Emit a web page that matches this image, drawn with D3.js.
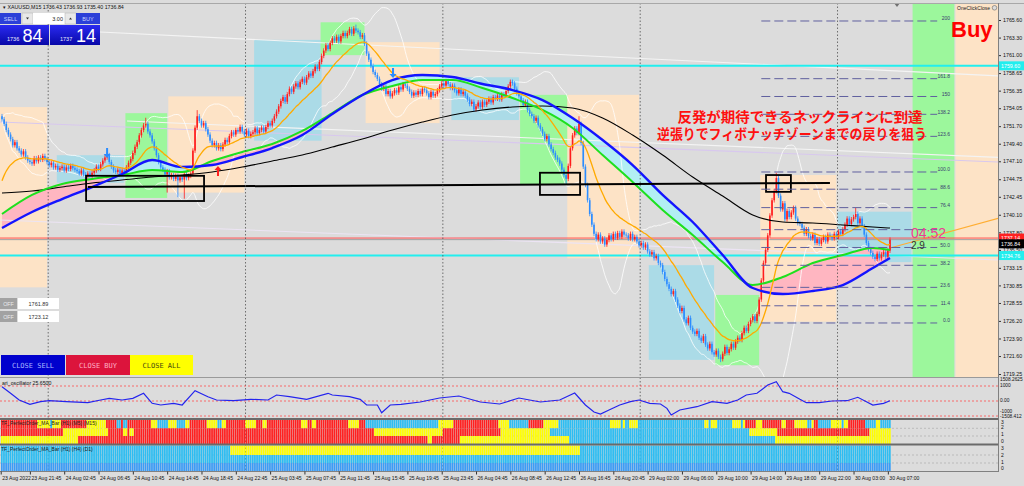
<!DOCTYPE html>
<html><head><meta charset="utf-8">
<script src="https://cdn.jsdelivr.net/npm/d3@7/dist/d3.min.js"></script>
<style>
html,body{margin:0;padding:0;background:#dcdcdc;overflow:hidden}
svg{display:block}
text{font-family:"Liberation Sans",Arial,sans-serif}
</style></head><body>
<svg id="chart" width="1024" height="486"></svg>
<script>
// ================= DATA =================
const firstOpen = 1753.0;
const closes = [
1752.6,1752.0,1751.2,1750.6,1750.0,1749.2,1749.6,1748.8,1748.5,1748.0,1748.4,1747.6,1747.2,1747.0,
1746.8,1747.5,1747.1,1747.6,1747.3,1747.8,1747.4,1747.0,1746.6,1746.9,1746.3,1746.5,1746.0,1746.2,
1746.4,1745.9,1746.3,1746.1,1746.5,1746.2,1746.0,1745.8,1745.5,1745.9,1745.4,1745.1,1745.5,1745.2,
1745.6,1745.9,1746.4,1746.1,1746.7,1747.2,1747.6,1747.9,1747.0,1746.4,1745.9,1745.7,
1746.0,1745.5,1745.9,1745.7,1746.3,1746.9,1747.4,1748.2,1749.0,1749.6,1750.5,1751.2,1751.8,1752.0,
1751.0,1750.5,1749.7,1748.8,1747.9,1747.0,1746.3,1746.0,1745.4,1745.8,1745.0,
1745.3,1744.8,1745.2,1744.6,1745.0,1744.7,1745.4,1744.9,1745.2,1745.5,1748.5,1751.5,1753.0,
1752.4,1751.8,1752.1,1751.3,1750.6,1749.8,1749.2,1749.5,1748.8,1749.2,1748.7,
1749.3,1749.9,1749.6,1750.4,1750.9,1750.6,1751.2,1751.0,1751.6,1751.0,1750.6,1751.1,1750.4,1750.7,
1750.9,1751.4,1750.8,1751.2,1751.5,1751.0,1751.6,1752.1,1751.8,1752.4,1753.0,1753.6,1754.3,1755.0,
1755.5,1754.9,1755.9,1756.6,1756.2,1756.9,1757.3,1756.8,1757.5,1757.9,1757.4,1758.1,1758.6,1758.3,
1758.9,1759.5,1759.2,1760.1,1760.9,1761.6,1762.3,1761.8,1762.6,1763.2,1762.9,
1763.4,1762.8,1763.5,1763.9,1763.5,1763.9,1764.4,1763.8,1764.5,1764.2,1764.0,1763.4,1763.6,
1762.5,1761.2,1760.4,1759.6,1758.8,1758.4,1757.9,1757.2,1756.6,1756.9,1755.9,
1756.3,1755.6,1756.0,1756.4,1756.1,1756.8,1756.5,1757.2,1757.0,1756.6,1756.2,1755.7,1756.1,1755.8,
1756.3,1755.9,1756.6,1756.4,1756.0,1755.5,1756.2,1755.7,1755.9,1756.4,1756.9,1757.3,1757.0,1757.6,
1757.2,1756.7,1757.0,1756.4,1756.0,1756.5,1755.9,1756.2,1755.7,1755.2,1754.6,1754.9,1753.9,
1754.3,1754.8,1754.2,1754.9,1754.5,1754.9,1755.3,1754.8,1755.5,1755.3,1755.7,1755.2,1755.9,1755.8,
1756.3,1756.9,1757.5,1757.3,1756.6,1756.0,1755.6,1755.1,1754.5,1754.9,1753.8,1753.3,
1753.0,1752.4,1752.8,1751.8,1751.3,1750.7,1750.0,1750.4,1749.3,1748.7,1748.2,1747.6,1747.3,
1746.8,1746.0,1745.3,1744.8,1746.5,1748.8,1750.5,1751.4,1750.8,1752.0,1749.5,1746.4,
1744.0,1742.0,1740.2,1738.8,1737.6,1736.9,1737.5,1736.6,1737.0,1736.2,1736.8,1737.4,1736.9,1737.6,1737.1,
1737.7,1737.2,1737.9,1737.5,1737.4,1737.0,1737.6,1736.9,1737.2,1736.6,1736.1,
1736.4,1735.8,1736.2,1735.3,1734.9,1735.2,1734.4,1734.7,1733.8,1733.5,1732.6,1731.7,1731.0,
1730.4,1729.7,1730.1,1729.0,1728.2,1727.5,1727.9,1726.4,1725.9,1726.6,1725.3,1724.8,1724.5,
1724.9,1724.0,1723.6,1724.2,1723.1,1722.6,1723.2,1722.1,1721.8,1722.3,1721.5,1721.2,
1721.9,1722.8,1722.0,1722.5,1723.2,1722.7,1723.5,1724.0,1723.7,1724.6,1725.3,1724.9,1725.8,1726.3,
1726.8,1726.2,1727.1,1729.0,1731.5,1733.8,1735.5,1737.4,1740.0,1742.0,1743.2,1744.9,
1742.6,1740.8,1741.6,1739.5,1740.6,1739.8,1740.4,1741.0,1739.6,1739.0,1738.9,
1738.4,1737.6,1738.2,1737.3,1737.0,1737.5,1736.4,1736.9,1736.3,1736.8,1737.2,1736.6,1737.5,1737.3,
1737.0,1737.6,1737.2,1737.9,1737.6,1738.2,1738.8,1739.6,1738.9,1739.5,1739.8,1740.2,
1739.0,1739.6,1738.6,1737.5,1736.4,1735.6,1735.1,1734.6,1734.3,1735.0,1734.4,1734.9,
1735.2,1734.6,1735.4,1736.84
];
// notable wicks [barIndex, high, low]
const spikes = [[49,1748.3,null],[67,1752.8,null],[77,null,1743.0],[82,null,1742.4],[85,null,1742.2],
  [91,1753.8,null],[165,1765.0,null],[263,null,1744.0],[269,1753.0,null],[335,null,1720.8],[361,1745.6,null],[398,1741.0,null]];
const orangeSeed = 1743.7;
const maIdx   = [0,14,28,42,56,70,84,98,112,126,140,154,168,182,196,210,224,238,252,266,280,294,308,322,336,350,364,378,392,406,414];
const maGreen = [1740.20,1742.69,1744.13,1744.78,1745.30,1745.96,1745.70,1747.14,1748.32,1749.36,1751.07,1753.42,1755.78,1756.96,1757.74,1757.74,1756.70,1755.39,1753.82,1751.46,1747.92,1744.39,1740.72,1737.45,1733.91,1730.90,1731.95,1733.78,1734.83,1735.75,1735.48];
const maBlue  = [1738.36,1740.46,1742.16,1743.73,1745.44,1747.27,1746.35,1746.61,1747.66,1748.84,1750.54,1753.29,1755.78,1757.74,1758.40,1758.14,1757.22,1756.43,1755.12,1752.77,1749.89,1746.61,1742.69,1739.15,1734.83,1730.51,1729.72,1730.12,1730.90,1733.13,1734.44];
const maBlack = [1742.95,1743.21,1743.73,1744.26,1744.65,1745.04,1745.30,1745.70,1746.35,1747.14,1747.92,1748.97,1750.02,1751.20,1752.24,1753.16,1753.82,1754.21,1754.34,1754.08,1752.77,1750.54,1747.92,1745.04,1742.55,1740.07,1739.15,1739.02,1738.76,1738.50,1738.36];
const priceTicks = [1765.60,1763.30,1761.00,1758.65,1756.35,1754.05,1751.70,1749.40,1747.10,1744.75,1742.45,1740.10,1737.80,1735.50,1733.15,1730.85,1728.55,1726.20,1723.90,1721.60,1719.25];
const timeIdx = [-0.6,13,29,45,61,77,93,109,125,141,157,173,189,205,221,237,253,269,285,301,317,333,349,365,381,397,413];
const timeLabels = ["23 Aug 2022","23 Aug 21:45","24 Aug 02:45","24 Aug 06:45","24 Aug 10:45","24 Aug 14:45","24 Aug 18:45","24 Aug 22:45","25 Aug 03:45","25 Aug 07:45","25 Aug 11:45","25 Aug 15:45","25 Aug 19:45","25 Aug 23:45","26 Aug 04:45","26 Aug 08:45","26 Aug 12:45","26 Aug 16:45","26 Aug 20:45","29 Aug 02:00","29 Aug 06:00","29 Aug 10:00","29 Aug 14:00","29 Aug 18:00","29 Aug 22:00","30 Aug 03:00","30 Aug 07:00"];
const daySep = [22,114,206,298,390];
// session boxes [fromIdx, toIdx, topPrice, bottomPrice, kind]
const boxes = [
 [-1,21,1754.2,1730.6,'o'],[26,57,1747.9,1744.3,'b'],[58,77,1753.4,1742.3,'g'],[78,113,1755.6,1743.0,'o'],
 [118,149,1763.0,1749.8,'b'],[149,169,1765.3,1761.0,'g'],[170,204,1762.7,1752.1,'o'],[210,241,1758.1,1752.5,'b'],
 [242,264,1755.8,1744.0,'g'],[264,297,1755.8,1734.4,'o'],[302,332,1733.5,1721.1,'b'],[333,353,1729.6,1720.4,'g'],
 [354,389,1745.3,1726.1,'o'],[390,424,1740.5,1733.9,'b'],[425,444,null,null,'g'],[445,465,null,null,'o']
];
const neckIdx = [40,386], neckPrice = [1743.73,1744.26];
const neckBoxes = [[39.2,94.2,1745.2,1741.9],[250.8,269.5,1745.6,1742.7],[356.2,367.8,1745.3,1743.1]];
const fibLevels = [0,11.4,23.6,38.2,50,61.8,76.4,88.6,100,123.6,138.2,150,161.8,200];
const fibLabels = ["0.0","11.4","23.6","38.2","50.0","","76.4","88.6","100.0","123.6","138.2","150","161.8","200"];
const fib0 = 1725.93, fib100 = 1745.70, fibFrom = 354, fibTo = 436, fibLabelIdx = 442;
// trend lines [i0,p0,i1,p1,color]
const trendLines = [
 [45.7,1764.03,465,1758.27,'#f4f4f4'],
 [-1,1752.24,465,1747.00,'#d8c8ee'],
 [58.3,1752.37,465,1747.60,'#f4f4f4'],
 [-1,1739.41,465,1734.17,'#ece4f4'],
 [414,1735.75,465,1739.67,'#ffae33']
];
const hLines = [[1759.60,'#22eeee',2],[1734.76,'#22eeee',2],[1737.05,'#ff5050',1],[1736.84,'#a0a0a0',1]];
const arrows = [[49,1747.53,'down','#2a8cff'],[100.7,1746.48,'up','#ff2020'],[182.3,1758.0,'down','#2a8cff']];
const oscData = [[0,953],[4,513],[8,67],[13,-220],[18,-47],[22,20],[30,-47],[40,-113],[46,67],[50,180],[56,67],[61,180],[66,513],[70,-153],[74,-267],[80,-153],[84,-267],[90,687],[96,287],[100,67],[108,20],[116,113],[124,67],[128,400],[134,287],[142,113],[152,513],[154,400],[162,287],[167,113],[170,-267],[175,-267],[177,-780],[181,-267],[186,-220],[195,-67],[204,200],[213,333],[223,-67],[232,-200],[241,200],[251,-67],[260,67],[267,533],[272,-267],[276,-733],[279,-867],[283,-600],[288,-267],[293,-47],[297,67],[302,-153],[307,-200],[310,-487],[312,-933],[316,-600],[324,-380],[331,-47],[338,-153],[343,67],[347,400],[352,513],[357,1067],[361,1287],[364,620],[367,513],[372,113],[375,-113],[381,-113],[387,0],[394,20],[399,247],[403,-47],[406,-267],[411,-153],[414,20]];
const po1Rows = [
 "R17Y6B1Y4R12Y9R5B2R1B2R11Y3B5Y4B4Y2R8Y5B2Y2R9Y5R3Y2R16Y3R2Y2R15Y5R3B34Y7R21Y5B9R7Y7B24Y5B1Y1B2Y4B31Y2B1Y3B7Y4B1Y1R5Y3R9Y2R4Y6B2Y1R2B6Y5B1Y2R8B5Y2B5",
 "R29Y21R7Y2R1Y2R112Y32R27Y23B93Y13R43Y10",
 "Y36R163Y2R13Y51B96Y54"
];
const po2Rows = ["B107Y163B145","B415","D415"];

// ================= DRAW =================
const svg = d3.select('#chart');
const defs = svg.append('defs');
const PR = 998, MT = 3, MB = 377;
const x = d3.scaleLinear().domain([0,414]).range([2,890]);
const y = d3.scaleLinear().domain([1719.25,1765.60]).range([374,20]);
const yOsc = d3.scaleLinear().domain([-1000,1000]).range([416,386]);
const curve = d3.curveMonotoneX;

svg.append('rect').attr('width',1024).attr('height',486).attr('fill','#dcdcdc');
defs.append('clipPath').attr('id','cMain').append('rect').attr('x',0).attr('y',MT).attr('width',PR).attr('height',MB-MT);
const gM = svg.append('g').attr('clip-path','url(#cMain)');

const boxColors = {o:'#fde3c6', b:'#abdbe7', g:'#9cf79c'};
gM.selectAll('rect.box').data(boxes).join('rect').attr('class','box')
  .attr('x',d=>x(d[0])-1).attr('width',d=>x(d[1])-x(d[0])+1)
  .attr('y',d=>d[2]==null?MT:y(d[2])).attr('height',d=>d[2]==null?MB-MT:y(d[3])-y(d[2]))
  .attr('fill',d=>boxColors[d[4]]);

// MA band fill
const pts = maIdx.map((d,i)=>({i:d,g:maGreen[i],b:maBlue[i],k:maBlack[i]}));
const band = d3.area().x(d=>x(d.i)).y0(d=>y(d.b)).y1(d=>y(d.g)).curve(curve);
defs.append('clipPath').attr('id','cAbove').append('path').attr('d',d3.area().x(d=>x(d.i)).y0(MT).y1(d=>y(d.b)).curve(curve)(pts));
defs.append('clipPath').attr('id','cBelow').append('path').attr('d',d3.area().x(d=>x(d.i)).y0(MB).y1(d=>y(d.b)).curve(curve)(pts));
gM.append('path').attr('d',band(pts)).attr('fill','#ffb6c1').attr('clip-path','url(#cAbove)');
gM.append('path').attr('d',band(pts)).attr('fill','#b2eef3').attr('clip-path','url(#cBelow)');

// trend & horizontal lines
gM.selectAll('line.tl').data(trendLines).join('line')
  .attr('x1',d=>x(d[0])).attr('y1',d=>y(d[1])).attr('x2',d=>x(d[2])).attr('y2',d=>y(d[3]))
  .attr('stroke',d=>d[4]).attr('stroke-width',1.1);
gM.selectAll('line.hl').data(hLines).join('line')
  .attr('x1',0).attr('x2',PR).attr('y1',d=>y(d[0])).attr('y2',d=>y(d[0]))
  .attr('stroke',d=>d[1]).attr('stroke-width',d=>d[2]);

// Bollinger (20,2) from closes
const bb = closes.map((c,i)=>{const w=closes.slice(Math.max(0,i-19),i+1);const m=d3.mean(w),s=d3.deviation(w)||0;return [i,m+2*s,m-2*s];});
const lineP = d3.line().x(d=>x(d[0])).y(d=>y(d[1])).curve(curve);
gM.append('path').attr('d',lineP(bb.map(d=>[d[0],d[1]]))).attr('fill','none').attr('stroke','#ffffff').attr('stroke-width',0.8);
gM.append('path').attr('d',lineP(bb.map(d=>[d[0],d[2]]))).attr('fill','none').attr('stroke','#ffffff').attr('stroke-width',0.8);

// candles
const WICK = 0.3;
const bars = closes.map((c,i)=>{const o=i?closes[i-1]:firstOpen;return {i,o,c,hi:Math.max(o,c)+WICK,lo:Math.min(o,c)-WICK};});
spikes.forEach(([i,h,l])=>{if(h!=null)bars[i].hi=h;if(l!=null)bars[i].lo=l;});
const col = d=>d.c>=d.o?'#ff1c1c':'#2b8cff';
const gC = gM.append('g');
gC.selectAll('line').data(bars).join('line')
  .attr('x1',d=>x(d.i)).attr('x2',d=>x(d.i)).attr('y1',d=>y(d.hi)).attr('y2',d=>y(d.lo))
  .attr('stroke',col).attr('stroke-width',0.8);
gC.selectAll('rect').data(bars).join('rect')
  .attr('x',d=>x(d.i)-0.8).attr('width',1.6)
  .attr('y',d=>y(Math.max(d.o,d.c))).attr('height',d=>Math.max(0.8,Math.abs(y(d.o)-y(d.c))))
  .attr('fill',col);

// MA lines
const ema=[];{const k=2/21;let e=orangeSeed;closes.forEach((c,i)=>{e=e+k*(c-e);ema.push([i,e]);});}
gM.append('path').attr('d',lineP(pts.map(d=>[d.i,d.k]))).attr('fill','none').attr('stroke','#000').attr('stroke-width',1.1);
gM.append('path').attr('d',lineP(pts.map(d=>[d.i,d.g]))).attr('fill','none').attr('stroke','#1ee01e').attr('stroke-width',2);
gM.append('path').attr('d',lineP(pts.map(d=>[d.i,d.b]))).attr('fill','none').attr('stroke','#1414ff').attr('stroke-width',2.4);
gM.append('path').attr('d',lineP(ema)).attr('fill','none').attr('stroke','#ffaa00').attr('stroke-width',1.3);

// neckline & boxes
gM.append('line').attr('x1',x(neckIdx[0])).attr('x2',x(neckIdx[1])).attr('y1',y(neckPrice[0])).attr('y2',y(neckPrice[1]))
  .attr('stroke','#000').attr('stroke-width',2);
gM.selectAll('rect.nb').data(neckBoxes).join('rect').attr('class','nb')
  .attr('x',d=>x(d[0])).attr('width',d=>x(d[1])-x(d[0])).attr('y',d=>y(d[2])).attr('height',d=>y(d[3])-y(d[2]))
  .attr('fill','none').attr('stroke','#000').attr('stroke-width',1.8);

// day separators
svg.selectAll('line.ds').data(daySep).join('line').attr('x1',d=>x(d)-1).attr('x2',d=>x(d)-1).attr('y1',MT).attr('y2',471)
  .attr('stroke','#505050').attr('stroke-width',0.8).attr('stroke-dasharray','1.5,2');

// fibonacci
const fibP = l=>fib0+(fib100-fib0)*l/100;
gM.selectAll('line.fib').data(fibLevels).join('line')
  .attr('x1',x(fibFrom)).attr('x2',x(fibTo)).attr('y1',d=>y(fibP(d))).attr('y2',d=>y(fibP(d)))
  .attr('stroke','#60609e').attr('stroke-width',1).attr('stroke-dasharray','9,4');
gM.selectAll('text.fib').data(fibLevels.filter((d,i)=>fibLabels[i])).join('text')
  .attr('x',x(fibLabelIdx)).attr('y',d=>y(fibP(d))-0.5).attr('text-anchor','end')
  .attr('font-size',5).attr('fill','#3a3a70').text(d=>fibLabels[fibLevels.indexOf(d)]);

// signal arrows
gM.selectAll('path.ar').data(arrows).join('path')
  .attr('transform',d=>`translate(${x(d[0])},${y(d[1])})`)
  .attr('d',d=>d[2]==='down'?'M-1,-10L1,-10L1,-4L3.5,-4L0,0L-3.5,-4L-1,-4Z':'M-1,10L1,10L1,4L3.5,4L0,0L-3.5,4L-1,4Z')
  .attr('fill',d=>d[3]);

// annotations
const ann = svg.append('g');
ann.append('text').attr('x',800).attr('y',121.5).attr('text-anchor','middle').attr('font-size',14).attr('font-weight',700)
  .attr('fill','#ff1010').style('font-family','"Noto Sans CJK JP"').attr('textLength',245).attr('lengthAdjust','spacingAndGlyphs')
  .text('反発が期待できるネックラインに到達');
ann.append('text').attr('x',792).attr('y',139).attr('text-anchor','middle').attr('font-size',14).attr('font-weight',700)
  .attr('fill','#ff1010').style('font-family','"Noto Sans CJK JP"').attr('textLength',270).attr('lengthAdjust','spacingAndGlyphs')
  .text('逆張りでフィボナッチゾーンまでの戻りを狙う');
ann.append('text').attr('x',951).attr('y',37).attr('font-size',22).attr('font-weight',700).attr('fill','#ff0000').text('Buy');
ann.append('text').attr('x',911).attr('y',238).attr('font-size',14).attr('fill','#ee3b95').text('04:52');
ann.append('text').attr('x',911).attr('y',249).attr('font-size',10).attr('fill','#333').text('2.9');
ann.append('text').attr('x',957).attr('y',9.5).attr('font-size',5).attr('fill','#222').text('OneClickClose');
ann.append('circle').attr('cx',994.5).attr('cy',7.8).attr('r',2.3).attr('fill','#ddd').attr('stroke','#666').attr('stroke-width',0.6);
ann.append('path').attr('d','M894,3L900,3L897,7Z').attr('fill','#707070');
ann.append('text').attr('x',3).attr('y',8.5).attr('font-size',5.3).attr('fill','#111').text('▾ XAUUSD,M15  1736.43 1736.93 1735.40 1736.84');

// one-click trading panel
const ui = svg.append('g');
const grad = defs.append('linearGradient').attr('id','gBlue').attr('x1',0).attr('y1',0).attr('x2',0).attr('y2',1);
grad.append('stop').attr('offset','0%').attr('stop-color','#2a2af0');
grad.append('stop').attr('offset','100%').attr('stop-color','#0808a8');
ui.append('rect').attr('x',0).attr('y',13).attr('width',21).attr('height',11).attr('fill','#2b3fd8');
ui.append('text').attr('x',10.5).attr('y',20.8).attr('text-anchor','middle').attr('font-size',5.5).attr('fill','#c8d2ff').text('SELL');
ui.append('rect').attr('x',22).attr('y',13).attr('width',11).attr('height',11).attr('fill','#e8e8e8').attr('stroke','#b0b0b0').attr('stroke-width',0.5);
ui.append('rect').attr('x',33).attr('y',13).attr('width',32).attr('height',11).attr('fill','#ffffff');
ui.append('rect').attr('x',65).attr('y',13).attr('width',11).attr('height',11).attr('fill','#e8e8e8').attr('stroke','#b0b0b0').attr('stroke-width',0.5);
ui.append('path').attr('d','M26,17.5L29,17.5L27.5,19.5Z').attr('fill','#333');
ui.append('path').attr('d','M69,19.5L72,19.5L70.5,17.5Z').attr('fill','#333');
ui.append('text').attr('x',63).attr('y',20.8).attr('text-anchor','end').attr('font-size',5.5).attr('fill','#222').text('3.00');
ui.append('rect').attr('x',76).attr('y',13).attr('width',24).attr('height',11).attr('fill','#2b3fd8');
ui.append('text').attr('x',88).attr('y',20.8).attr('text-anchor','middle').attr('font-size',5.5).attr('fill','#c8d2ff').text('BUY');
ui.append('rect').attr('x',0).attr('y',25).attr('width',49).attr('height',20).attr('fill','url(#gBlue)');
ui.append('rect').attr('x',50).attr('y',25).attr('width',50).attr('height',20).attr('fill','url(#gBlue)');
ui.append('text').attr('x',7).attr('y',40.5).attr('font-size',5.5).attr('fill','#e8ecff').text('1736');
ui.append('text').attr('x',22.5).attr('y',41.5).attr('font-size',18).attr('fill','#ffffff').text('84');
ui.append('text').attr('x',60).attr('y',40.5).attr('font-size',5.5).attr('fill','#e8ecff').text('1737');
ui.append('text').attr('x',76).attr('y',41.5).attr('font-size',18).attr('fill','#ffffff').text('14');

[[298,'1761.89'],[311,'1723.12']].forEach(([yy,t])=>{
  ui.append('rect').attr('x',0).attr('y',yy).attr('width',17).attr('height',11).attr('fill','#a2a2a2');
  ui.append('text').attr('x',8.5).attr('y',yy+7.8).attr('text-anchor','middle').attr('font-size',5.3).attr('fill','#ececec').text('OFF');
  ui.append('rect').attr('x',18).attr('y',yy).attr('width',41).attr('height',11).attr('fill','#ffffff');
  ui.append('text').attr('x',38.5).attr('y',yy+7.8).attr('text-anchor','middle').attr('font-size',5.5).attr('fill','#333').text(t);
});
[[1,64,'#0000cd','#a8b6ff','CLOSE SELL'],[66,64,'#dc143c','#ffb0c4','CLOSE BUY'],[130,63,'#ffff00','#4a4a10','CLOSE ALL']].forEach(([bx,bw,bg,fg,t])=>{
  ui.append('rect').attr('x',bx).attr('y',355).attr('width',bw).attr('height',20).attr('fill',bg);
  ui.append('text').attr('x',bx+bw/2).attr('y',368).attr('text-anchor','middle').attr('font-size',7)
    .style('font-family','"DejaVu Sans Mono",monospace').attr('fill',fg).text(t);
});

// ===== right price axis =====
const ax = svg.append('g').attr('transform',`translate(${PR},0)`)
  .call(d3.axisRight(y).tickValues(priceTicks).tickFormat(d=>d.toFixed(2)).tickSize(3).tickPadding(2));
ax.select('.domain').remove();
ax.selectAll('text').attr('font-size',5.3).attr('fill','#111').style('font-family','"Liberation Sans",Arial,sans-serif');
ax.selectAll('line').attr('stroke','#333');
function tag(p,bg,fg,label){
  const yy=y(p);
  svg.append('rect').attr('x',PR+1).attr('y',yy-4.5).attr('width',25).attr('height',9).attr('fill',bg);
  svg.append('text').attr('x',PR+3).attr('y',yy+2).attr('font-size',5.3).attr('fill',fg).text(label);
}
tag(1759.60,'#22eeee','#ffffff','1759.60');
tag(1737.05,'#ff2020','#ffffff','1737.14');
tag(1736.30,'#000000','#ffffff','1736.84');
tag(1734.76,'#22eeee','#ffffff','1734.76');

// ===== oscillator panel =====
const gO = svg.append('g');
[1000,0,-1000].forEach(v=>gO.append('line').attr('x1',0).attr('x2',PR).attr('y1',yOsc(v)).attr('y2',yOsc(v))
  .attr('stroke','#ff4b4b').attr('stroke-width',0.8).attr('stroke-dasharray','2,2'));
gO.append('path').attr('d',d3.line().x(d=>x(d[0])).y(d=>yOsc(d[1]))(oscData)).attr('fill','none').attr('stroke','#2424ee').attr('stroke-width',1.2);
gO.append('text').attr('x',2).attr('y',385).attr('font-size',5.2).attr('fill','#111').text('ari_oscillator 25.6500');
[[381,'1508.2625'],[386.5,'1000'],[402,'0.00'],[412.5,'-1000'],[417.6,'-1508.412']].forEach(([yy,t])=>
  gO.append('text').attr('x',PR+2).attr('y',yy).attr('font-size',4.8).attr('fill','#111').text(t));

// ===== PerfectOrder panels =====
function expand(rle){const out=[];rle.match(/[A-Z]\d+/g).forEach(t=>{for(let k=0;k<+t.slice(1);k++)out.push(t[0]);});return out;}
const poCol = {R:'#ff2020',Y:'#ffff00',B:'#2dbdf2',D:'#3b9cf6'};
function poPanel(rows,tops,h,title,ty,labels){
  const g=svg.append('g');
  rows.forEach((r,ri)=>{
    g.selectAll(null).data(expand(r)).join('rect')
      .attr('x',(d,i)=>x(i)-1.05).attr('width',1.75).attr('y',tops[ri]).attr('height',h[ri]).attr('fill',d=>poCol[d]);
  });
  tops.slice(1).forEach(t=>g.append('line').attr('x1',0).attr('x2',PR).attr('y1',t).attr('y2',t).attr('stroke','#9a9a9a').attr('stroke-width',0.5).attr('stroke-dasharray','2,2').lower());
  g.append('text').attr('x',1).attr('y',ty).attr('font-size',5).attr('fill','#222').text(title);
  labels.forEach(([yy,t])=>g.append('text').attr('x',PR+3).attr('y',yy).attr('font-size',5).attr('fill','#111').text(t));
}
poPanel(po1Rows,[420,428.3,436],[8.3,7.7,8],'TF_PerfectOrder_MA_Bar (H1) (M5) (M15)',424.5,[[423.5,'3'],[429,'2'],[436,'1'],[442.5,'0']]);
poPanel(po2Rows,[445.5,455,463],[9.5,8,8.5],'TF_PerfectOrder_MA_Bar (H1) (H4) (D1)',451,[[449.5,'3'],[456.5,'2'],[464,'1'],[470,'0']]);

// separators / frame
svg.append('line').attr('x1',0).attr('x2',1024).attr('y1',3.5).attr('y2',3.5).attr('stroke','#a8a8a8');
svg.append('line').attr('x1',0).attr('x2',PR).attr('y1',377.5).attr('y2',377.5).attr('stroke','#9a9a9a');
svg.append('line').attr('x1',0).attr('x2',PR).attr('y1',419).attr('y2',419).attr('stroke','#6a6a6a').attr('stroke-width',2);
svg.append('line').attr('x1',0).attr('x2',PR).attr('y1',444.5).attr('y2',444.5).attr('stroke','#6a6a6a').attr('stroke-width',2);
svg.append('line').attr('x1',0).attr('x2',PR).attr('y1',471.5).attr('y2',471.5).attr('stroke','#808080');
svg.append('line').attr('x1',PR+0.5).attr('x2',PR+0.5).attr('y1',3).attr('y2',472).attr('stroke','#808080');

// ===== time axis =====
const tx = svg.append('g').attr('transform','translate(0,471.5)')
  .call(d3.axisBottom(x).tickValues(timeIdx).tickFormat((d,i)=>timeLabels[i]).tickSize(3).tickPadding(2));
tx.select('.domain').remove();
tx.selectAll('text').attr('text-anchor','start').attr('dx',1).attr('font-size',5.1).attr('fill','#111').style('font-family','"Liberation Sans",Arial,sans-serif');
tx.selectAll('line').attr('stroke','#333');
</script></body></html>
